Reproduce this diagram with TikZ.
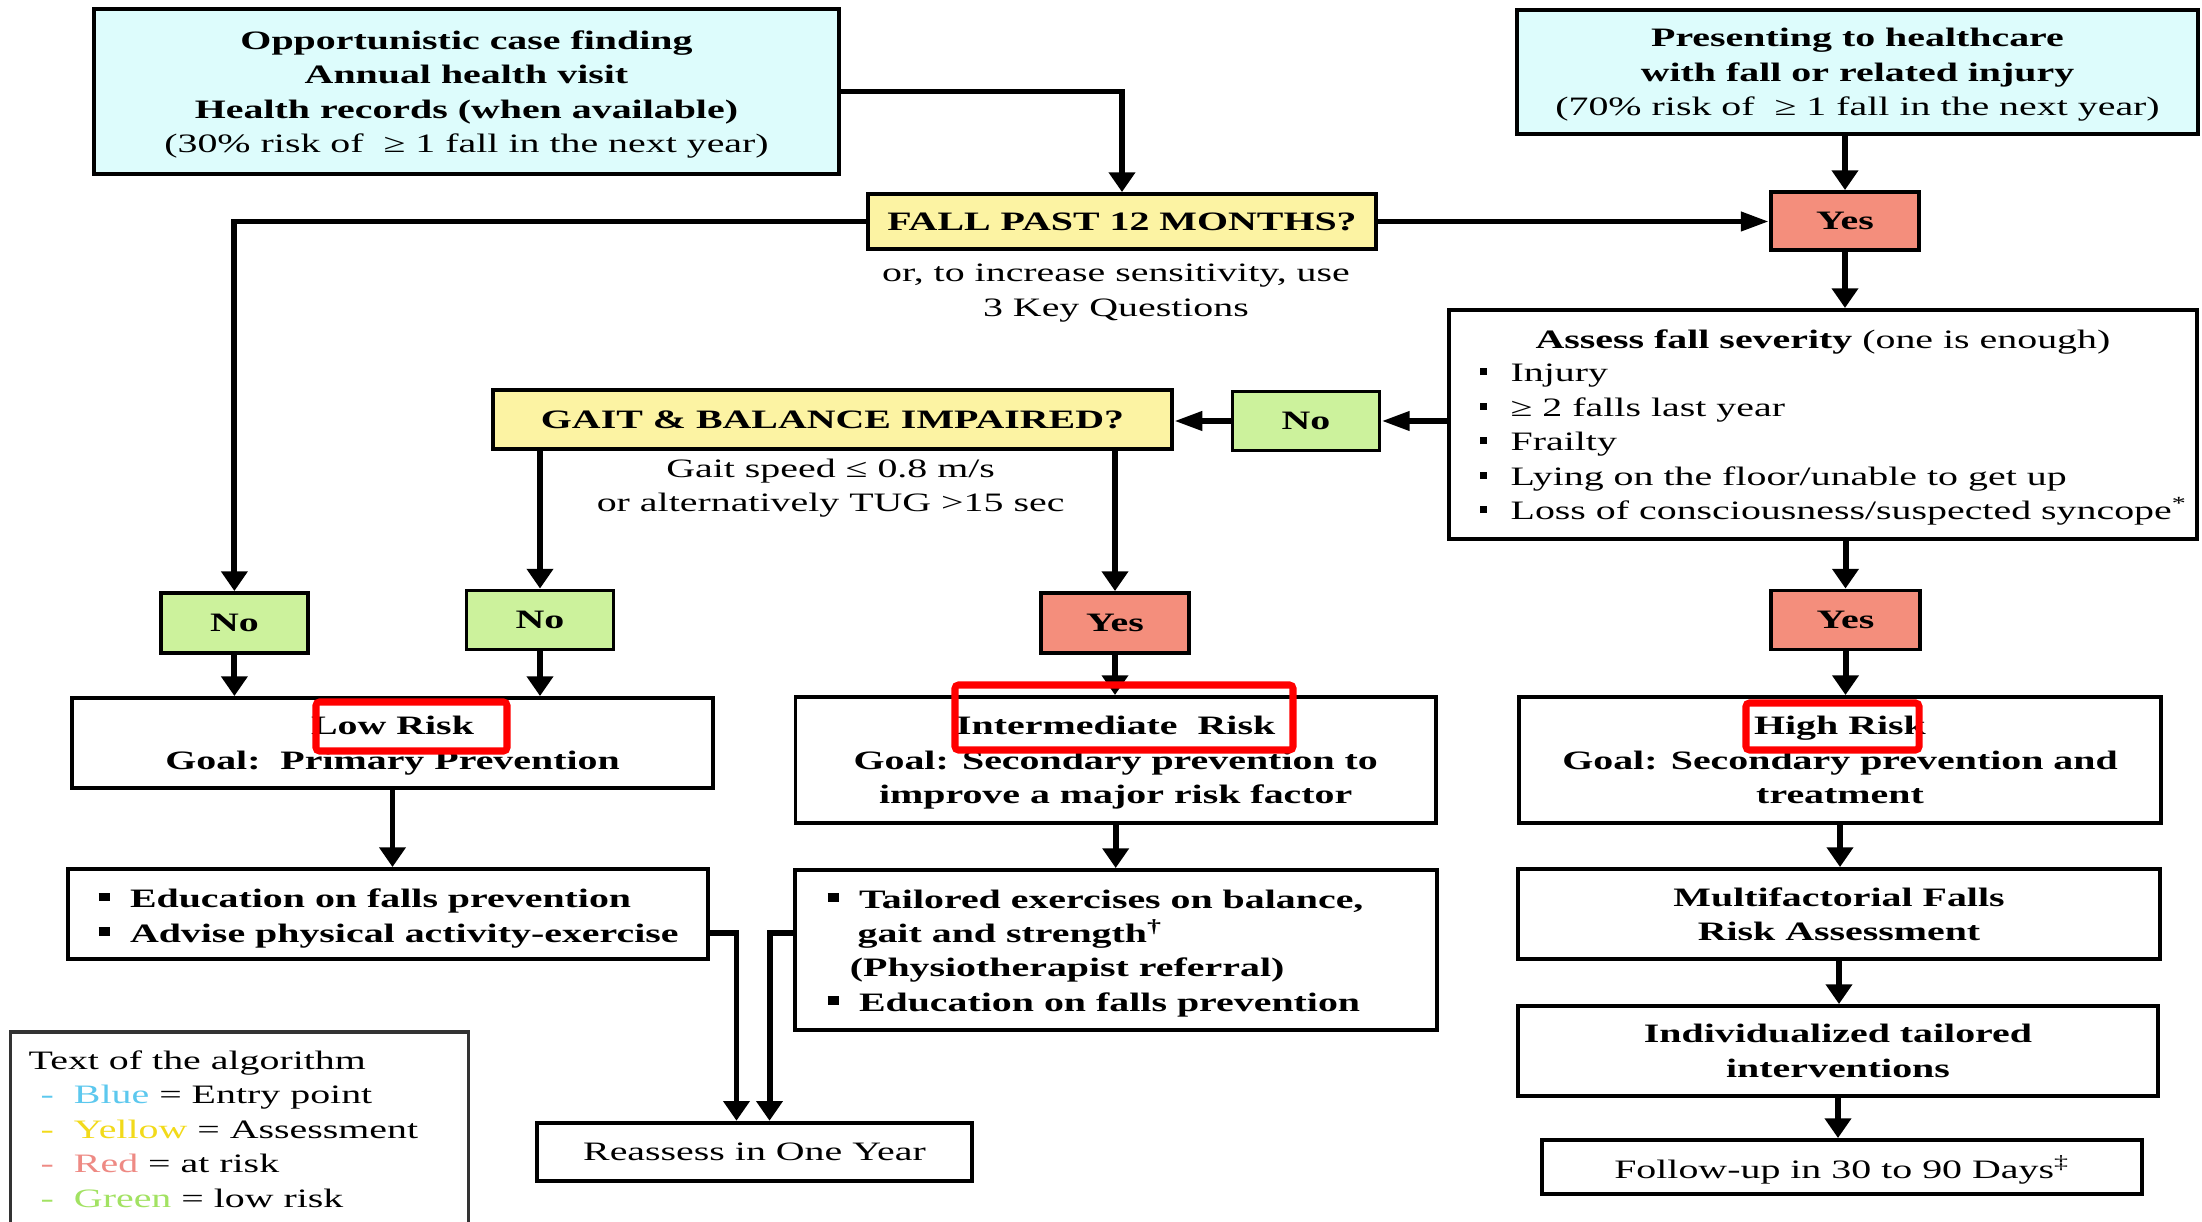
\documentclass[tikz,border=0pt]{standalone}
\usepackage{fontspec}
\setmainfont{Liberation Serif}[FakeStretch=1.5]
\usetikzlibrary{arrows.meta}
\definecolor{bxblue}{HTML}{DDFCFC}
\definecolor{bxyellow}{HTML}{FCF3A3}
\definecolor{bxred}{HTML}{F48E7C}
\definecolor{bxgreen}{HTML}{CCF29C}
\definecolor{lgblue}{HTML}{5CC8EE}
\definecolor{lgyellow}{HTML}{F2DA1A}
\definecolor{lgred}{HTML}{EE8A84}
\definecolor{lggreen}{HTML}{A2E262}
\definecolor{hlred}{HTML}{FF0000}
\newcommand\fsz{\fontsize{7.56}{9.8}\selectfont}
\newcommand\bulr{\rule[1.9pt]{2pt}{2pt}}
\newcommand\bulb{\rule[1.8pt]{3.3pt}{2.5pt}}
\begin{document}
\begin{tikzpicture}[x=0.01cm,y=-0.01cm,
  every node/.style={font=\fsz, inner sep=0pt, text=black, text depth=0pt},
  box/.style={draw, line width=1.1pt, align=center},
  bfbox/.style={box, font=\fsz\bfseries},
  conn/.style={draw=black, line width=1.7pt},
  arrV/.style={-{Triangle[length=5.6pt,width=7.3pt]}},
  arrH/.style={-{Triangle[length=8pt,width=5.2pt]}},
  hl/.style={draw=hlred, line width=2pt, rounded corners=1pt}]
\useasboundingbox (0,0) rectangle (2202,1222);
\fill[white] (0,0) rectangle (2202,1222);

% entry points
\node[bfbox, fill=bxblue, minimum width=7.45cm, minimum height=1.65cm] (entryA) at (466.5,91.5)
  {Opportunistic case finding\\Annual health visit\\Health records (when available)\\\mdseries(30\% risk of\ \ ≥ 1 fall in the next year)};
\node[bfbox, fill=bxblue, minimum width=6.81cm, minimum height=1.24cm] (entryB) at (1857.5,72)
  {Presenting to healthcare\\with fall or related injury\\\mdseries(70\% risk of\ \ ≥ 1 fall in the next year)};

% first question
\node[bfbox, fill=bxyellow, minimum width=5.08cm, minimum height=0.55cm] (fall) at (1122,221.5) {FALL PAST 12 MONTHS?};
\node[align=center] (falltxt) at (1116,290) {or, to increase sensitivity, use\\3 Key Questions};
\node[bfbox, fill=bxred, minimum width=1.48cm, minimum height=0.58cm] (yesT) at (1845,221) {Yes};

% severity
\node[box, minimum width=7.48cm, minimum height=2.29cm] (assess) at (1823,424.5) {};
\node (assessT) at (1823,339) {\textbf{Assess fall severity} (one is enough)};
\node[align=left, anchor=west] (assessL) at (1479,442)
  {\bulr\hspace{6.8pt}Injury\\\bulr\hspace{6.8pt}≥ 2 falls last year\\\bulr\hspace{6.8pt}Frailty\\\bulr\hspace{6.8pt}Lying on the floor/unable to get up\\\bulr\hspace{6.8pt}Loss of consciousness/suspected syncope\textsuperscript{*}};

\node[bfbox, fill=bxgreen, minimum width=1.47cm, minimum height=0.59cm] (noM) at (1306,421) {No};
\node[bfbox, fill=bxyellow, minimum width=6.79cm, minimum height=0.59cm] (gait) at (832.5,419.5) {GAIT \& BALANCE IMPAIRED?};
\node[align=center] (gaittxt) at (830.6,485.5) {Gait speed ≤ 0.8 m/s\\or alternatively TUG >15 sec};

% answers
\node[bfbox, fill=bxgreen, minimum width=1.47cm, minimum height=0.60cm] (no1) at (234.4,623) {No};
\node[bfbox, fill=bxgreen, minimum width=1.47cm, minimum height=0.59cm] (no2) at (540,620) {No};
\node[bfbox, fill=bxred, minimum width=1.48cm, minimum height=0.60cm] (yesM) at (1115,623) {Yes};
\node[bfbox, fill=bxred, minimum width=1.49cm, minimum height=0.59cm] (yesR) at (1845.5,620) {Yes};

% risk levels
\node[bfbox, minimum width=6.41cm, minimum height=0.90cm] (low) at (392.5,743) {Low Risk\\Goal:\ \ Primary Prevention};
\node[bfbox, minimum width=6.40cm, minimum height=1.26cm] (inter) at (1115.7,760) {Intermediate\ \ Risk\\Goal: Secondary prevention to\\improve a major risk factor};
\node[bfbox, minimum width=6.41cm, minimum height=1.26cm] (high) at (1840,760) {High Risk\\Goal: Secondary prevention and\\treatment};

% actions
\node[box, minimum width=6.40cm, minimum height=0.90cm] (edu) at (388,914) {};
\node[align=left, anchor=west, font=\fsz\bfseries] (eduL) at (98,915.5)
  {\bulb\hspace{5.6pt}Education on falls prevention\\\bulb\hspace{5.6pt}Advise physical activity-exercise};
\node[box, minimum width=6.42cm, minimum height=1.60cm] (tail) at (1116,950) {};
\node[align=left, anchor=west, font=\fsz\bfseries] (tailL) at (827,950.5)
  {\bulb\hspace{5.6pt}Tailored exercises on balance,\\\hspace*{8.5pt}gait and strength\textsuperscript{†}\\\hspace*{6.3pt}(Physiotherapist referral)\\\bulb\hspace{5.6pt}Education on falls prevention};
\node[bfbox, minimum width=6.42cm, minimum height=0.90cm] (multi) at (1839,914) {Multifactorial Falls\\Risk Assessment};
\node[bfbox, minimum width=6.40cm, minimum height=0.90cm] (indiv) at (1838,1051) {Individualized tailored\\interventions};
\node[box, minimum width=5.99cm, minimum height=0.54cm] (follow) at (1842,1167) {Follow-up in 30 to 90 Days\textsuperscript{‡}};
\node[box, minimum width=4.35cm, minimum height=0.58cm] (reassess) at (754.5,1151.7) {Reassess in One Year};

% legend
\node[align=left, anchor=west] (legend) at (28,1129)
  {Text of the algorithm\\
   \hspace*{3.4pt}{\color{lgblue}-}\hspace{5.7pt}{\color{lgblue}Blue} = Entry point\\
   \hspace*{3.4pt}{\color{lgyellow}-}\hspace{5.7pt}{\color{lgyellow}Yellow} = Assessment\\
   \hspace*{3.4pt}{\color{lgred}-}\hspace{5.7pt}{\color{lgred}Red} = at risk\\
   \hspace*{3.4pt}{\color{lggreen}-}\hspace{5.7pt}{\color{lggreen}Green} = low risk};
\draw[line width=1pt, draw=black!80] (10.5,1222) |- (468.6,1032) -- (468.6,1222);

% connectors
\draw[conn, arrV] (entryA.east) -| (fall.north);
\draw[conn, arrV] (fall.west) -| (no1.north);
\draw[conn, arrH] (fall.east) -- (fall.east -| yesT.west);
\draw[conn, arrV] (yesT.north |- entryB.south) -- (yesT.north);
\draw[conn, arrV] (yesT.south) -- (yesT.south |- assess.north);
\draw[conn, arrH] (assess.west |- noM.east) -- (noM.east);
\draw[conn, arrH] (noM.west) -- (noM.west -| gait.east);
\draw[conn, arrV] (no2.north |- gait.south) -- (no2.north);
\draw[conn, arrV] (yesM.north |- gait.south) -- (yesM.north);
\draw[conn, arrV] (yesR.north |- assess.south) -- (yesR.north);
\draw[conn, arrV] (no1.south) -- (no1.south |- low.north);
\draw[conn, arrV] (no2.south) -- (no2.south |- low.north);
\draw[conn, arrV] (yesM.south) -- (yesM.south |- inter.north);
\draw[conn, arrV] (yesR.south) -- (yesR.south |- high.north);
\draw[conn, arrV] (low.south) -- (low.south |- edu.north);
\draw[conn, arrV] (inter.south) -- (inter.south |- tail.north);
\draw[conn, arrV] (high.south) -- (high.south |- multi.north);
\draw[conn, arrV] (multi.south) -- (multi.south |- indiv.north);
\draw[conn, arrV] (indiv.south) -- (indiv.south |- follow.north);
\draw[conn, arrV] ([yshift=-0.19cm]edu.east) -| ([xshift=-0.18cm]reassess.north);
\draw[conn, arrV] ([yshift=0.17cm]tail.west) -| ([xshift=0.15cm]reassess.north);

% red highlight frames
\draw[hl] (316,702) rectangle (507,751);
\draw[hl] (955,685) rectangle (1293,750);
\draw[hl] (1746,703) rectangle (1919,750);
\end{tikzpicture}
\end{document}
